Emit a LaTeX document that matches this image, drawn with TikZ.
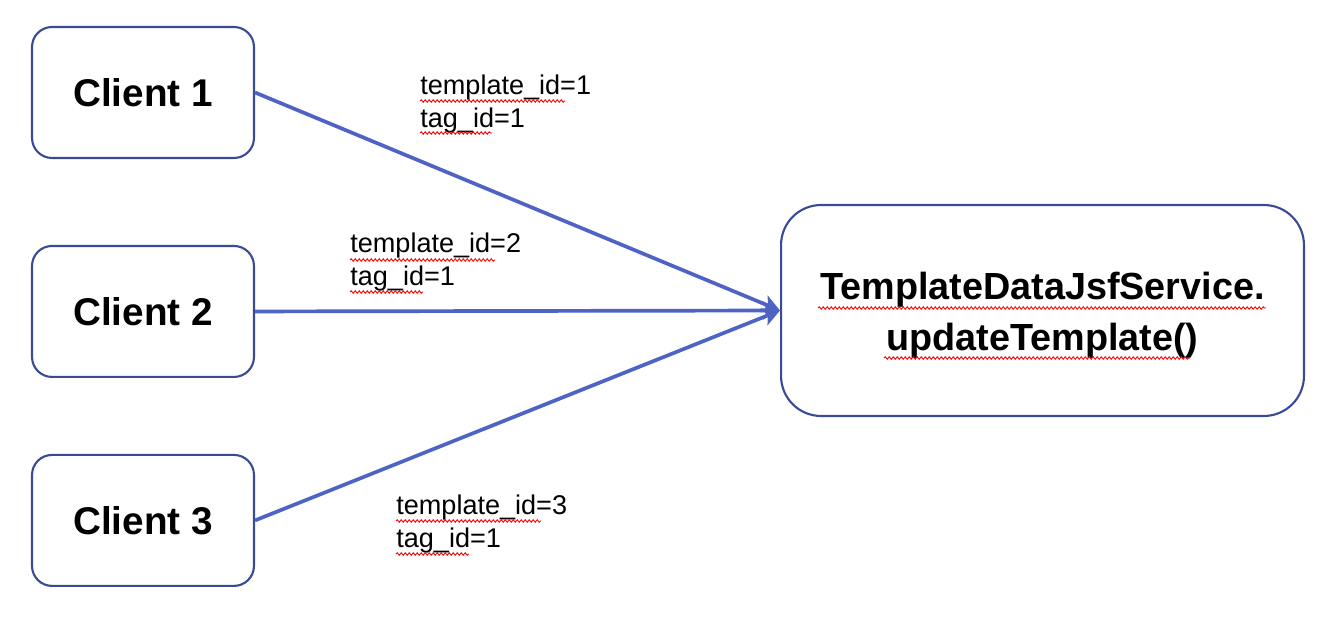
\documentclass[tikz,border=0pt]{standalone}
\usepackage{fontspec}
\setmainfont{Liberation Sans}
\usetikzlibrary{arrows.meta,decorations.pathmorphing}
\definecolor{boxline}{RGB}{58,74,150}
\definecolor{arrowblue}{RGB}{79,99,196}

\begin{document}
\begin{tikzpicture}[x=0.02cm, y=-0.02cm, node distance=4.38cm,
    client/.style={rectangle, draw=boxline, line width=1.2pt, rounded corners=0.4cm,
        minimum width=4.44cm, minimum height=2.62cm, font=\fontsize{22}{26}\selectfont\bfseries},
    service/.style={rectangle, draw=boxline, line width=1.2pt, rounded corners=0.8cm,
        minimum width=10.46cm, minimum height=4.22cm},
    svctext/.style={align=center, yshift=-0.1cm, font=\fontsize{21.5}{29}\selectfont\bfseries},
    param/.style={anchor=west, align=left, inner sep=0pt, font=\fontsize{15.4}{18.6}\selectfont},
    arr/.style={draw=arrowblue, line width=2.1pt, -{Stealth[length=0.34cm, width=0.36cm, inset=0.08cm]}},
    squig/.style={draw=red, line width=0.5pt, decorate, decoration={snake, segment length=0.08cm, amplitude=0.025cm}}]
    \useasboundingbox (0,0) rectangle (1342,628);

    \node (client1) [client] at (143,92.5) {Client 1};
    \node (client2) [client, below of=client1] {Client 2};
    \node (client3) [client, below of=client2, node distance=4.18cm] {Client 3};
    \node (svc) [service, label={[svctext]center:{TemplateDataJsfService.\\updateTemplate()}}] at (1042.5,310.5) {};

    \node (param1) [param] at (420,104) {template\_id=1\\tag\_id=1};
    \node (param2) [param] at (350,262) {template\_id=2\\tag\_id=1};
    \node (param3) [param] at (396,524) {template\_id=3\\tag\_id=1};

    \draw[arr] (client1.east) -- (svc.west);
    \draw[arr] (client2.east) -- (svc.west);
    \draw[arr] (client3.east) -- (svc.west);

    % spell check marks
    \draw[squig] (420,101) -- (565,101);
    \draw[squig] (420,133) -- (492,133);
    \draw[squig] (350,260) -- (495,260);
    \draw[squig] (350,292) -- (423,292);
    \draw[squig] (396,521) -- (541,521);
    \draw[squig] (396,554) -- (469,554);
    \draw[squig] (818,308) -- (1266,308);
    \draw[squig] (884,358) -- (1190,358);
\end{tikzpicture}
\end{document}
